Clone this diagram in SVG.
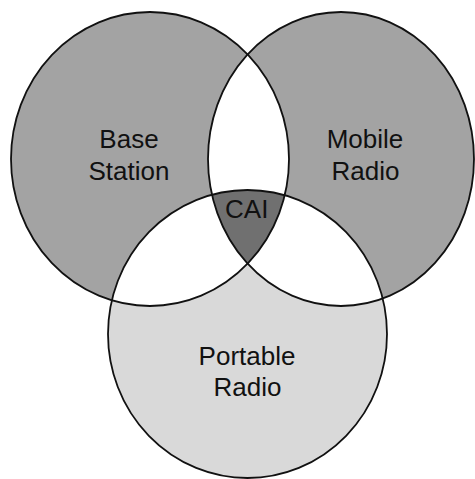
<svg xmlns="http://www.w3.org/2000/svg" width="475" height="479" viewBox="0 0 475 479">
  <style>
    .lbl { font-family: "Liberation Sans", Arial, sans-serif; font-size: 26px; fill: #111; text-anchor: middle; }
    .edge { fill: none; stroke: #111; stroke-width: 1.8; }
  </style>
  <defs>
    <clipPath id="c1"><ellipse cx="150" cy="159" rx="139" ry="147"/></clipPath>
    <clipPath id="c2"><ellipse cx="341" cy="159" rx="133" ry="147"/></clipPath>
  </defs>
  <rect width="475" height="479" fill="#fff"/>
  <g id="base-station">
    <ellipse cx="150" cy="159" rx="139" ry="147" fill="#a3a3a3"/>
  </g>
  <g id="mobile-radio">
    <ellipse cx="341" cy="159" rx="133" ry="147" fill="#a3a3a3"/>
  </g>
  <g id="portable-radio">
    <ellipse cx="247.5" cy="334" rx="139.5" ry="144" fill="#d9d9d9"/>
  </g>
  <g id="overlaps">
    <g clip-path="url(#c1)">
      <ellipse cx="341" cy="159" rx="133" ry="147" fill="#fff"/>
      <ellipse cx="247.5" cy="334" rx="139.5" ry="144" fill="#fff"/>
    </g>
    <g clip-path="url(#c2)">
      <ellipse cx="247.5" cy="334" rx="139.5" ry="144" fill="#fff"/>
    </g>
  </g>
  <g id="cai">
    <g clip-path="url(#c1)">
      <g clip-path="url(#c2)">
        <ellipse cx="247.5" cy="334" rx="139.5" ry="144" fill="#707070"/>
      </g>
    </g>
  </g>
  <g id="outlines">
    <ellipse class="edge" cx="150" cy="159" rx="139" ry="147"/>
    <ellipse class="edge" cx="341" cy="159" rx="133" ry="147"/>
    <ellipse class="edge" cx="247.5" cy="334" rx="139.5" ry="144"/>
  </g>
  <g id="labels">
    <text class="lbl" x="129" y="148">Base</text>
    <text class="lbl" x="129" y="180">Station</text>
    <text class="lbl" x="365" y="148">Mobile</text>
    <text class="lbl" x="365.5" y="180">Radio</text>
    <text class="lbl" x="246.7" y="218">CAI</text>
    <text class="lbl" x="247" y="365">Portable</text>
    <text class="lbl" x="247.5" y="396">Radio</text>
  </g>
</svg>
